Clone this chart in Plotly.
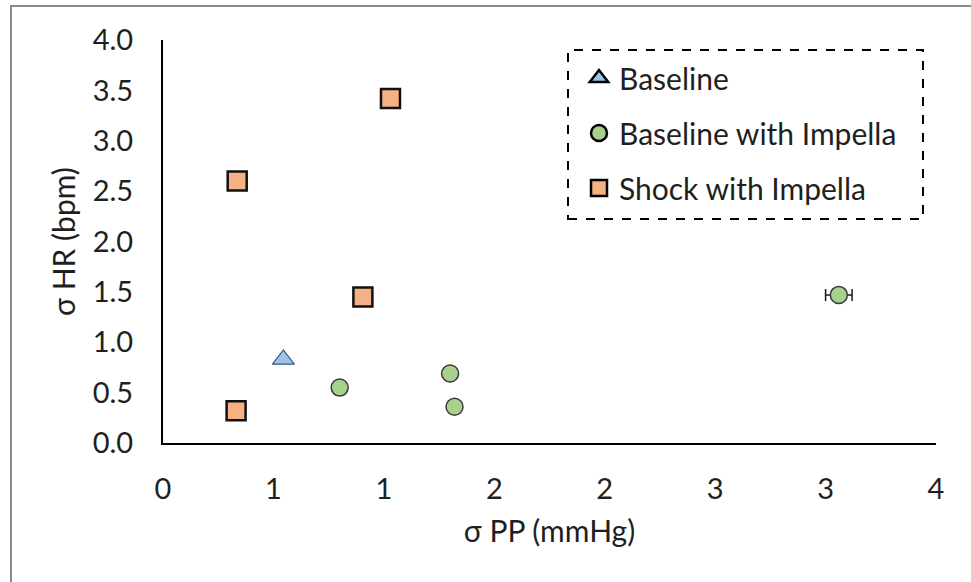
import plotly.graph_objects as go

# ---- data ----
series_names = ["Baseline", "Baseline with Impella", "Shock with Impella"]

baseline_pp = [0.545]
baseline_hr = [0.83]

impella_pp = [0.80, 1.30, 1.32, 3.06]
impella_hr = [0.55, 0.69, 0.36, 1.47]
impella_pp_err = [0, 0, 0, 0.06]

shock_pp = [0.336, 1.03, 0.905, 0.331]
shock_hr = [2.60, 3.42, 1.45, 0.32]

x_tickvals = [0, 0.5, 1.0, 1.5, 2.0, 2.5, 3.0, 3.5]
x_ticktext = ["0", "1", "1", "2", "2", "3", "3", "4"]
y_tickvals = [0, 0.5, 1.0, 1.5, 2.0, 2.5, 3.0, 3.5, 4.0]
y_ticktext = ["0.0", "0.5", "1.0", "1.5", "2.0", "2.5", "3.0", "3.5", "4.0"]

x_title = "σ PP (mmHg)"
y_title = "σ HR (bpm)"

# ---- styles ----
FONT = "Lato, 'Open Sans', sans-serif"
TXT = "#1f1f1f"
BLUE = "#9DC3E6"
GREEN = "#A9D18E"
ORANGE = "#F4B183"

fig = go.Figure()

# plotted marks (no legend)
fig.add_trace(go.Scatter(
    x=baseline_pp, y=baseline_hr, mode="markers", showlegend=False,
    marker=dict(symbol="triangle-up", size=19, color=BLUE,
                line=dict(color="#3A5A7A", width=1.2)),
))
fig.add_trace(go.Scatter(
    x=impella_pp, y=impella_hr, mode="markers", showlegend=False,
    marker=dict(symbol="circle", size=17, color=GREEN,
                line=dict(color="#3a3a3a", width=1.5)),
    error_x=dict(type="data", array=impella_pp_err, visible=True,
                 color="#1a1a1a", thickness=1.5, width=6),
))
fig.add_trace(go.Scatter(
    x=shock_pp, y=shock_hr, mode="markers", showlegend=False,
    marker=dict(symbol="square", size=19, color=ORANGE,
                line=dict(color="#111111", width=2.5)),
))

# legend entries (thick black outlines as in the reference legend)
legend_specs = [("triangle-up", BLUE), ("circle", GREEN), ("square", ORANGE)]
for i, (name, (sym, col)) in enumerate(zip(series_names, legend_specs)):
    fig.add_trace(go.Scatter(
        x=[None], y=[None], mode="markers", name=name, legendgroup=f"g{i}",
        marker=dict(symbol=sym, size=16, color=col,
                    line=dict(color="#000000", width=2.5)),
    ))

W, H = 971, 582
L, R, T, B = 163, 35, 40, 139
pw, ph = W - L - R, H - T - B


def px2x(px):
    return (px - L) / pw


def py2y(py):
    return (H - B - py) / ph


fig.update_layout(
    width=W, height=H, autosize=False,
    margin=dict(l=L, r=R, t=T, b=B, pad=0),
    paper_bgcolor="white", plot_bgcolor="white",
    font=dict(family=FONT, size=28, color=TXT),
    showlegend=True,
    legend=dict(
        x=px2x(579), y=py2y(52), xanchor="left", yanchor="top",
        bgcolor="rgba(0,0,0,0)", borderwidth=0,
        font=dict(family=FONT, size=30, color=TXT),
        tracegroupgap=13, itemsizing="trace", itemwidth=30,
    ),
    xaxis=dict(
        range=[0, 3.5], tickmode="array", tickvals=x_tickvals, ticktext=x_ticktext,
        showline=True, linecolor="#000000", linewidth=2, mirror=False,
        showgrid=False, zeroline=False, ticks="",
        ticklabelstandoff=19,
        tickfont=dict(family=FONT, size=29, color=TXT),
        title=dict(text=x_title, font=dict(family=FONT, size=30, color=TXT), standoff=17),
    ),
    yaxis=dict(
        range=[0, 4], tickmode="array", tickvals=y_tickvals, ticktext=y_ticktext,
        showline=True, linecolor="#000000", linewidth=2, mirror=False,
        showgrid=False, zeroline=False, ticks="",
        ticklabelstandoff=22,
        tickfont=dict(family=FONT, size=29, color=TXT),
        title=dict(text=y_title, font=dict(family=FONT, size=30, color=TXT), standoff=8),
    ),
    shapes=[
        # dashed legend frame
        dict(type="rect", xref="paper", yref="paper",
             x0=px2x(568), x1=px2x(923), y0=py2y(219), y1=py2y(50),
             line=dict(color="#000000", width=2, dash="dash"), fillcolor="rgba(0,0,0,0)"),
        # outer chart border (gray)
        dict(type="rect", xref="paper", yref="paper",
             x0=px2x(11), x1=px2x(985), y0=py2y(600), y1=py2y(6),
             line=dict(color="#8a8a8a", width=2), fillcolor="rgba(0,0,0,0)", layer="below"),
    ],
)

fig.write_html(
    "out.html",
    config={"displayModeBar": False},
    post_script="document.body.style.margin='0';document.body.style.overflow='hidden';",
)
